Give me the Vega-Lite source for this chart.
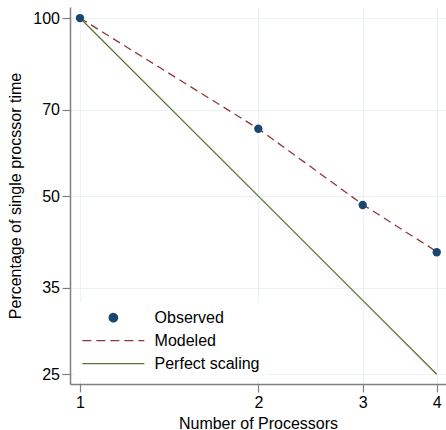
{
  "$schema": "https://vega.github.io/schema/vega-lite/v6.json",
  "width": 376,
  "height": 377,
  "autosize": {"type": "none"},
  "padding": {"left": 70, "top": 7, "right": 0, "bottom": 46},
  "background": "white",
  "config": {
    "view": {"stroke": null},
    "font": "Liberation Sans",
    "axis": {
      "domainColor": "#7f7f7f",
      "domainWidth": 1.5,
      "tickColor": "#7f7f7f",
      "tickWidth": 1.2,
      "tickSize": 8,
      "gridColor": "#eaf2f3",
      "gridWidth": 1,
      "labelFont": "Liberation Sans",
      "labelFontSize": 16,
      "labelColor": "#000000",
      "labelPadding": 2.5,
      "labelFlush": false,
      "labelOverlap": false,
      "titleFont": "Liberation Sans",
      "titleFontSize": 16,
      "titleFontWeight": "normal",
      "titleColor": "#000000"
    }
  },
  "data": {
    "values": [
      {"series": "Observed", "processors": 1, "pct": 100},
      {"series": "Observed", "processors": 2, "pct": 65.0},
      {"series": "Observed", "processors": 3, "pct": 48.3},
      {"series": "Observed", "processors": 4, "pct": 40.2},
      {"series": "Modeled", "processors": 1, "pct": 100},
      {"series": "Modeled", "processors": 2, "pct": 65.0},
      {"series": "Modeled", "processors": 3, "pct": 48.4},
      {"series": "Modeled", "processors": 4, "pct": 40.3},
      {"series": "Perfect scaling", "processors": 1, "pct": 100},
      {"series": "Perfect scaling", "processors": 2, "pct": 50},
      {"series": "Perfect scaling", "processors": 3, "pct": 33.333},
      {"series": "Perfect scaling", "processors": 4, "pct": 25}
    ]
  },
  "encoding": {
    "x": {
      "field": "processors",
      "type": "quantitative",
      "scale": {"type": "log", "domain": [0.962, 4.147], "nice": false, "zero": false},
      "axis": {
        "values": [1, 2, 3, 4],
        "format": "d",
        "grid": true,
        "title": "Number of Processors",
        "titleY": 44.3,
        "titleBaseline": "alphabetic"
      }
    },
    "y": {
      "field": "pct",
      "type": "quantitative",
      "scale": {"type": "log", "domain": [24.07, 104.4], "nice": false, "zero": false},
      "axis": {
        "values": [25, 35, 50, 70, 100],
        "format": "d",
        "grid": true,
        "title": "Percentage of single procssor time",
        "titleX": -50,
        "titleBaseline": "alphabetic"
      }
    },
    "color": {
      "field": "series",
      "type": "nominal",
      "scale": {
        "domain": ["Observed", "Modeled", "Perfect scaling"],
        "range": ["#1a476f", "#90353b", "#55752f"]
      },
      "legend": {
        "orient": "none",
        "legendX": 4.5,
        "legendY": 294.7,
        "title": null,
        "fillColor": "white",
        "padding": 8,
        "rowPadding": 7,
        "symbolType": "circle",
        "symbolSize": 64,
        "symbolStrokeWidth": 1.3,
        "symbolOffset": 22.85,
        "labelFont": "Liberation Sans",
        "labelFontSize": 16,
        "labelColor": "#000000",
        "labelOffset": 33.2,
        "labelLimit": 300,
        "encode": {
          "symbols": {
            "update": {
              "shape": {"signal": "datum.value === 'Observed' ? 'circle' : 'M-7.75,0H7.75'"},
              "size": {"signal": "datum.value === 'Observed' ? 70 : 64"},
              "fill": {"signal": "datum.value === 'Observed' ? '#1a476f' : 'transparent'"},
              "stroke": {"signal": "datum.value === 'Observed' ? 'transparent' : (datum.value === 'Modeled' ? '#90353b' : '#55752f')"},
              "strokeDash": {"signal": "datum.value === 'Modeled' ? [9, 5] : [1, 0]"},
              "strokeWidth": {"value": 1.3},
              "opacity": {"value": 1}
            }
          }
        }
      }
    }
  },
  "layer": [
    {
      "transform": [{"filter": "datum.series === 'Modeled'"}],
      "mark": {"type": "line", "strokeDash": [8, 5], "strokeWidth": 1.3}
    },
    {
      "transform": [{"filter": "datum.series === 'Perfect scaling'"}],
      "mark": {"type": "line", "strokeWidth": 1.3}
    },
    {
      "transform": [{"filter": "datum.series === 'Observed'"}],
      "mark": {"type": "point", "filled": true, "size": 70, "opacity": 1}
    }
  ]
}
